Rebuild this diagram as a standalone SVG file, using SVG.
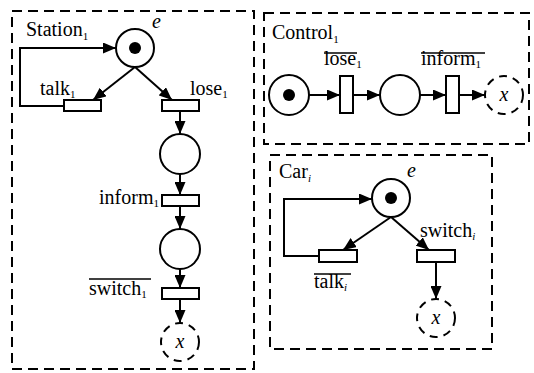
<svg xmlns="http://www.w3.org/2000/svg" width="534" height="373" viewBox="0 0 534 373">
  <style>
    .box { fill: none; stroke: #000; stroke-width: 2; stroke-dasharray: 10 6; }
    .place { fill: #fff; stroke: #000; stroke-width: 2; }
    .ext { fill: #fff; stroke: #000; stroke-width: 2; stroke-dasharray: 8 6; }
    .tok { fill: #000; }
    .tr { fill: #fff; stroke: #000; stroke-width: 2; }
    .arc { fill: none; stroke: #000; stroke-width: 2; marker-end: url(#ah); }
    .ovl { stroke: #000; stroke-width: 1.5; }
    text { font-family: "Liberation Serif", "Times New Roman", serif; font-size: 20px; fill: #000; }
    .it { font-style: italic; }
    .sub { font-size: 11px; }
  </style>
  <defs>
    <marker id="ah" markerWidth="13" markerHeight="11" refX="13" refY="5.5" orient="auto" markerUnits="userSpaceOnUse">
      <path d="M0,0 L13,5.5 L0,11 Z" fill="#000"/>
    </marker>
  </defs>
  <rect width="534" height="373" fill="#fff"/>

  <!-- module frames -->
  <g id="station">
    <rect class="box" x="12" y="11" width="242" height="358"/>
    <text x="26" y="36">Station<tspan class="sub" dy="4">1</tspan></text>
  </g>
  <g id="control">
    <rect class="box" x="264" y="13" width="265" height="131"/>
    <text x="272" y="39">Control<tspan class="sub" dy="4">1</tspan></text>
  </g>
  <g id="car">
    <rect class="box" x="270" y="155" width="222" height="194"/>
    <text x="279" y="178">Car<tspan class="sub it" dy="4">i</tspan></text>
  </g>

  <!-- Station net -->
  <g id="s-p0"><circle class="place" cx="135" cy="48" r="19"/><circle class="tok" cx="135" cy="48" r="6"/><text class="it" x="152" y="28">e</text></g>
  <g id="s-talk"><rect class="tr" x="64" y="100" width="37" height="11"/><text x="40" y="95">talk<tspan class="sub" dy="3">1</tspan></text></g>
  <g id="s-lose"><rect class="tr" x="162" y="100" width="37" height="11"/><text x="190" y="95">lose<tspan class="sub" dy="3">1</tspan></text></g>
  <g id="s-p1"><circle class="place" cx="180" cy="154" r="20"/></g>
  <g id="s-inform"><rect class="tr" x="162" y="195" width="37" height="11"/><text x="159" y="204" text-anchor="end">inform<tspan class="sub" dy="3">1</tspan></text></g>
  <g id="s-p2"><circle class="place" cx="180" cy="249" r="20"/></g>
  <g id="s-switch"><rect class="tr" x="162" y="288" width="37" height="11"/><text x="89" y="295">switch<tspan class="sub" dy="3">1</tspan></text><line class="ovl" x1="89" y1="279" x2="151" y2="279"/></g>
  <g id="s-x"><circle class="ext" cx="180" cy="342" r="19"/><text class="it" x="180" y="348" text-anchor="middle">x</text></g>

  <!-- Control net -->
  <g id="c-p0"><circle class="place" cx="289" cy="95" r="20"/><circle class="tok" cx="289" cy="95" r="6"/></g>
  <g id="c-lose"><rect class="tr" x="340" y="76" width="13" height="37"/><text x="324" y="65">lose<tspan class="sub" dy="3">1</tspan></text><line class="ovl" x1="324" y1="53" x2="357" y2="53"/></g>
  <g id="c-p1"><circle class="place" cx="400" cy="95" r="20"/></g>
  <g id="c-inform"><rect class="tr" x="446" y="76" width="13" height="37"/><text x="421" y="65">inform<tspan class="sub" dy="3">1</tspan></text><line class="ovl" x1="421" y1="53" x2="485" y2="53"/></g>
  <g id="c-x"><circle class="ext" cx="504" cy="95" r="19"/><text class="it" x="504" y="101" text-anchor="middle">x</text></g>

  <!-- Car net -->
  <g id="r-p0"><circle class="place" cx="391" cy="198" r="19"/><circle class="tok" cx="391" cy="198" r="6"/><text class="it" x="407" y="177">e</text></g>
  <g id="r-talk"><rect class="tr" x="319" y="250" width="38" height="12"/><text x="314" y="288">talk<tspan class="sub it" dy="3">i</tspan></text><line class="ovl" x1="314" y1="274" x2="351" y2="274"/></g>
  <g id="r-switch"><rect class="tr" x="417" y="250" width="38" height="12"/><text x="420" y="237">switch<tspan class="sub it" dy="3">i</tspan></text></g>
  <g id="r-x"><circle class="ext" cx="436" cy="318" r="19"/><text class="it" x="436" y="324" text-anchor="middle">x</text></g>

  <!-- connectors -->
  <g id="arcs">
    <path class="arc" d="M135,67 L93,100"/>
    <path class="arc" d="M135,67 L172,100"/>
    <path class="arc" d="M64,106 L20,106 L20,48 L116,48"/>
    <path class="arc" d="M180,111 L180,134"/>
    <path class="arc" d="M180,174 L180,195"/>
    <path class="arc" d="M180,206 L180,229"/>
    <path class="arc" d="M180,269 L180,288"/>
    <path class="arc" d="M180,299 L180,323"/>

    <path class="arc" d="M309,95 L340,95"/>
    <path class="arc" d="M353,95 L380,95"/>
    <path class="arc" d="M420,95 L446,95"/>
    <path class="arc" d="M459,95 L485,95"/>

    <path class="arc" d="M391,217 L343,250"/>
    <path class="arc" d="M391,217 L429,250"/>
    <path class="arc" d="M319,256 L284,256 L284,199 L372,199"/>
    <path class="arc" d="M436,262 L436,299"/>
  </g>
</svg>
